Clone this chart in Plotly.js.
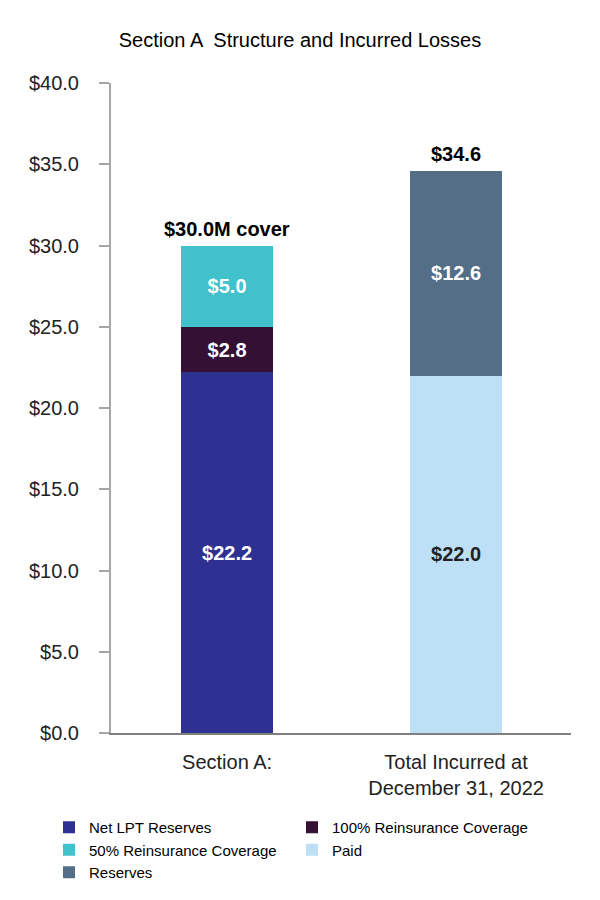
<!DOCTYPE html>
<html>
<head>
<meta charset="utf-8">
<script src="https://cdn.plot.ly/plotly-3.0.1.min.js"></script>
<style>html,body{margin:0;padding:0;background:#fff;}#chart{width:600px;height:900px;}</style>
</head>
<body>
<div id="chart"></div>
<script>
const categories = ["Section A:", "Total Incurred at<br>December 31, 2022"];
const netLPT = [22.2, null];
const reins100 = [2.8, null];
const reins50 = [5.0, null];
const paid = [null, 22.0];
const reserves = [null, 12.6];
const totalLabels = ["$30.0M cover", "$34.6"];
const yTickVals = [0, 5, 10, 15, 20, 25, 30, 35, 40];
const yTickText = ["$0.0", "$5.0", "$10.0", "$15.0", "$20.0", "$25.0", "$30.0", "$35.0", "$40.0"];

const font = '"Liberation Sans", Arial, sans-serif';
function bar(name, vals, color, textColor) {
  return {
    type: 'bar', name: name, x: categories, y: vals,
    marker: {color: color, line: {width: 0}},
    width: 0.4,
    texttemplate: '$%{y:.1f}', textposition: 'inside', insidetextanchor: 'middle',
    textfont: {family: font, size: 20, color: textColor, weight: 'bold'},
    constraintext: 'none', hoverinfo: 'skip'
  };
}
const traces = [
  bar('Net LPT Reserves', netLPT, '#2E3192', '#ffffff'),
  bar('100% Reinsurance Coverage', reins100, '#341034', '#ffffff'),
  bar('50% Reinsurance Coverage', reins50, '#40C1CC', '#ffffff'),
  bar('Paid', paid, '#BDE0F6', '#222222'),
  bar('Reserves', reserves, '#546E87', '#ffffff')
];
const totals = categories.map((c, i) => [netLPT, reins100, reins50, paid, reserves].reduce((s, a) => s + (a[i] || 0), 0));
const annotations = categories.map((c, i) => ({
  x: c, y: totals[i], xref: 'x', yref: 'y', text: '<b>' + totalLabels[i] + '</b>',
  showarrow: false, yanchor: 'bottom', yshift: 4,
  font: {family: font, size: 20, color: '#000'}
}));
const layout = {
  width: 600, height: 900,
  margin: {l: 111, r: 29, t: 83, b: 167, autoexpand: false},
  paper_bgcolor: '#fff', plot_bgcolor: '#fff',
  barmode: 'stack',
  font: {family: font, color: '#222'},
  title: {text: 'Section A  Structure and Incurred Losses', font: {family: font, size: 20, color: '#000'},
    x: 0.5, xanchor: 'center', y: 1 - 40/900, yanchor: 'middle', xref: 'container', yref: 'container'},
  xaxis: {type: 'category', range: [-0.507, 1.502], showline: true, linecolor: '#7f7f7f', linewidth: 2,
    ticks: '', ticklabelstandoff: 10, tickfont: {family: font, size: 20, color: '#222'}, showgrid: false, zeroline: false, fixedrange: true, automargin: false},
  yaxis: {range: [0, 40], tickvals: yTickVals, ticktext: yTickText, showline: true, linecolor: '#a6a6a6', linewidth: 2,
    ticks: 'outside', ticklen: 10, tickcolor: '#a6a6a6', tickwidth: 2, ticklabelstandoff: 16,
    tickfont: {family: font, size: 20, color: '#222'}, showgrid: false, zeroline: false, fixedrange: true, automargin: false},
  showlegend: true,
  legend: {orientation: 'h', xref: 'paper', yref: 'paper', x: (49 - 111) / 460, y: (733 - 811) / 650,
    xanchor: 'left', yanchor: 'top', traceorder: 'normal', entrywidth: 198, entrywidthmode: 'pixels',
    font: {family: font, size: 15, color: '#000'}, itemwidth: 30, tracegroupgap: 0},
  annotations: annotations
};
Plotly.newPlot('chart', traces, layout, {displayModeBar: false, staticPlot: true});
</script>
</body>
</html>
